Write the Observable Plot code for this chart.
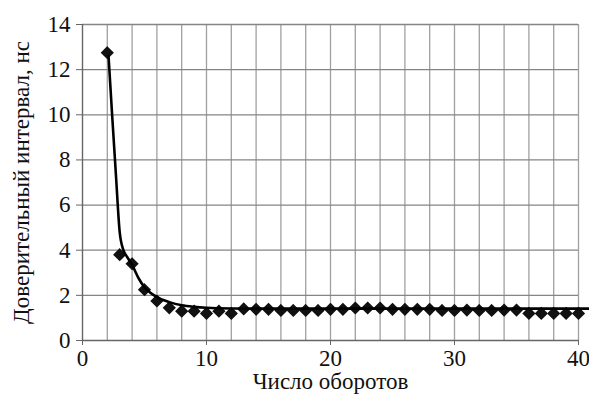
<!DOCTYPE html>
<html>
<head>
<meta charset="utf-8">
<script src="https://cdn.jsdelivr.net/npm/d3@7"></script>
<script src="https://cdn.jsdelivr.net/npm/@observablehq/plot@0.6"></script>
<style>
  html, body { margin: 0; padding: 0; background: #fff; }
</style>
</head>
<body>
<div id="chart"></div>
<script>
// Measured points: number of revolutions vs confidence interval (ns)
const revolutions = [2,3,4,5,6,7,8,9,10,11,12,13,14,15,16,17,18,19,20,21,22,23,24,25,26,27,28,29,30,31,32,33,34,35,36,37,38,39,40];
const intervals   = [12.75,3.8,3.4,2.25,1.75,1.45,1.3,1.3,1.2,1.3,1.2,1.4,1.38,1.38,1.33,1.33,1.33,1.33,1.38,1.38,1.44,1.44,1.44,1.38,1.38,1.38,1.38,1.33,1.33,1.35,1.33,1.33,1.35,1.35,1.2,1.2,1.2,1.2,1.2];

// Trend curve
const trendX = [2.1, 2.4, 2.7, 3.0, 3.3, 3.6, 4.0, 4.5, 5.0, 5.5, 6.0, 7.0, 8.0, 9.0, 10, 12, 15, 20, 30, 40.9];
const trendY = [12.6, 9.9, 7.3, 4.8, 4.0, 3.7, 3.35, 2.78, 2.36, 2.1, 1.92, 1.7, 1.56, 1.49, 1.45, 1.42, 1.41, 1.41, 1.41, 1.41];

// Axis ticks and grid
const xTicks = [0, 10, 20, 30, 40];
const xGrid  = [2,4,6,8,10,12,14,16,18,20,22,24,26,28,30,32,34,36,38,40];
const yTicks = [0, 2, 4, 6, 8, 10, 12, 14];

const points = revolutions.map((x, i) => ({x, y: intervals[i]}));
const trend = trendX.map((x, i) => ({x, y: trendY[i]}));

const serif = "Liberation Serif";

const chart = Plot.plot({
  width: 589,
  height: 394,
  marginLeft: 82,
  marginRight: 11,
  marginTop: 24,
  marginBottom: 54,
  style: {fontSize: "23px", color: "#111", background: "#fff"},
  x: {domain: [0, 40]},
  y: {domain: [0, 14]},
  marks: [
    Plot.ruleX(xGrid, {stroke: "#a0a0a0", strokeWidth: 1.3}),
    Plot.ruleY(yTicks.filter(d => d > 0), {stroke: "#858585", strokeWidth: 1.3}),
    Plot.ruleX([0], {stroke: "#666", strokeWidth: 1.4}),
    Plot.ruleY([0], {stroke: "#666", strokeWidth: 1.4}),
    Plot.axisX({ticks: xTicks, tickSize: 5, tickPadding: 4, stroke: "#666",
      fontSize: 23, fill: "#111",
      label: "Число оборотов", labelAnchor: "center", labelArrow: "none", labelOffset: 48}),
    Plot.axisY({ticks: yTicks, tickSize: 6, tickPadding: 6, stroke: "#666",
      fontSize: 23, fill: "#111",
      label: "Доверительный интервал, нс", labelAnchor: "center", labelArrow: "none", labelOffset: 70}),
    Plot.dot(points, {x: "x", y: "y", symbol: "diamond2", r: 5, fill: "#111", stroke: "#111"}),
    Plot.line(trend, {x: "x", y: "y", curve: "monotone-x", stroke: "#000", strokeWidth: 2.6})
  ]
});
// Force the serif face on every element that can carry text
chart.setAttribute("font-family", serif);
chart.querySelectorAll("g, text, tspan").forEach(el => {
  el.setAttribute("font-family", serif);
  el.removeAttribute("font-variant");
  el.style.setProperty("font-family", serif, "important");
  el.style.removeProperty("font-variant");
  el.style.removeProperty("font-variant-numeric");
});
document.getElementById("chart").appendChild(chart);
</script>
</body>
</html>
